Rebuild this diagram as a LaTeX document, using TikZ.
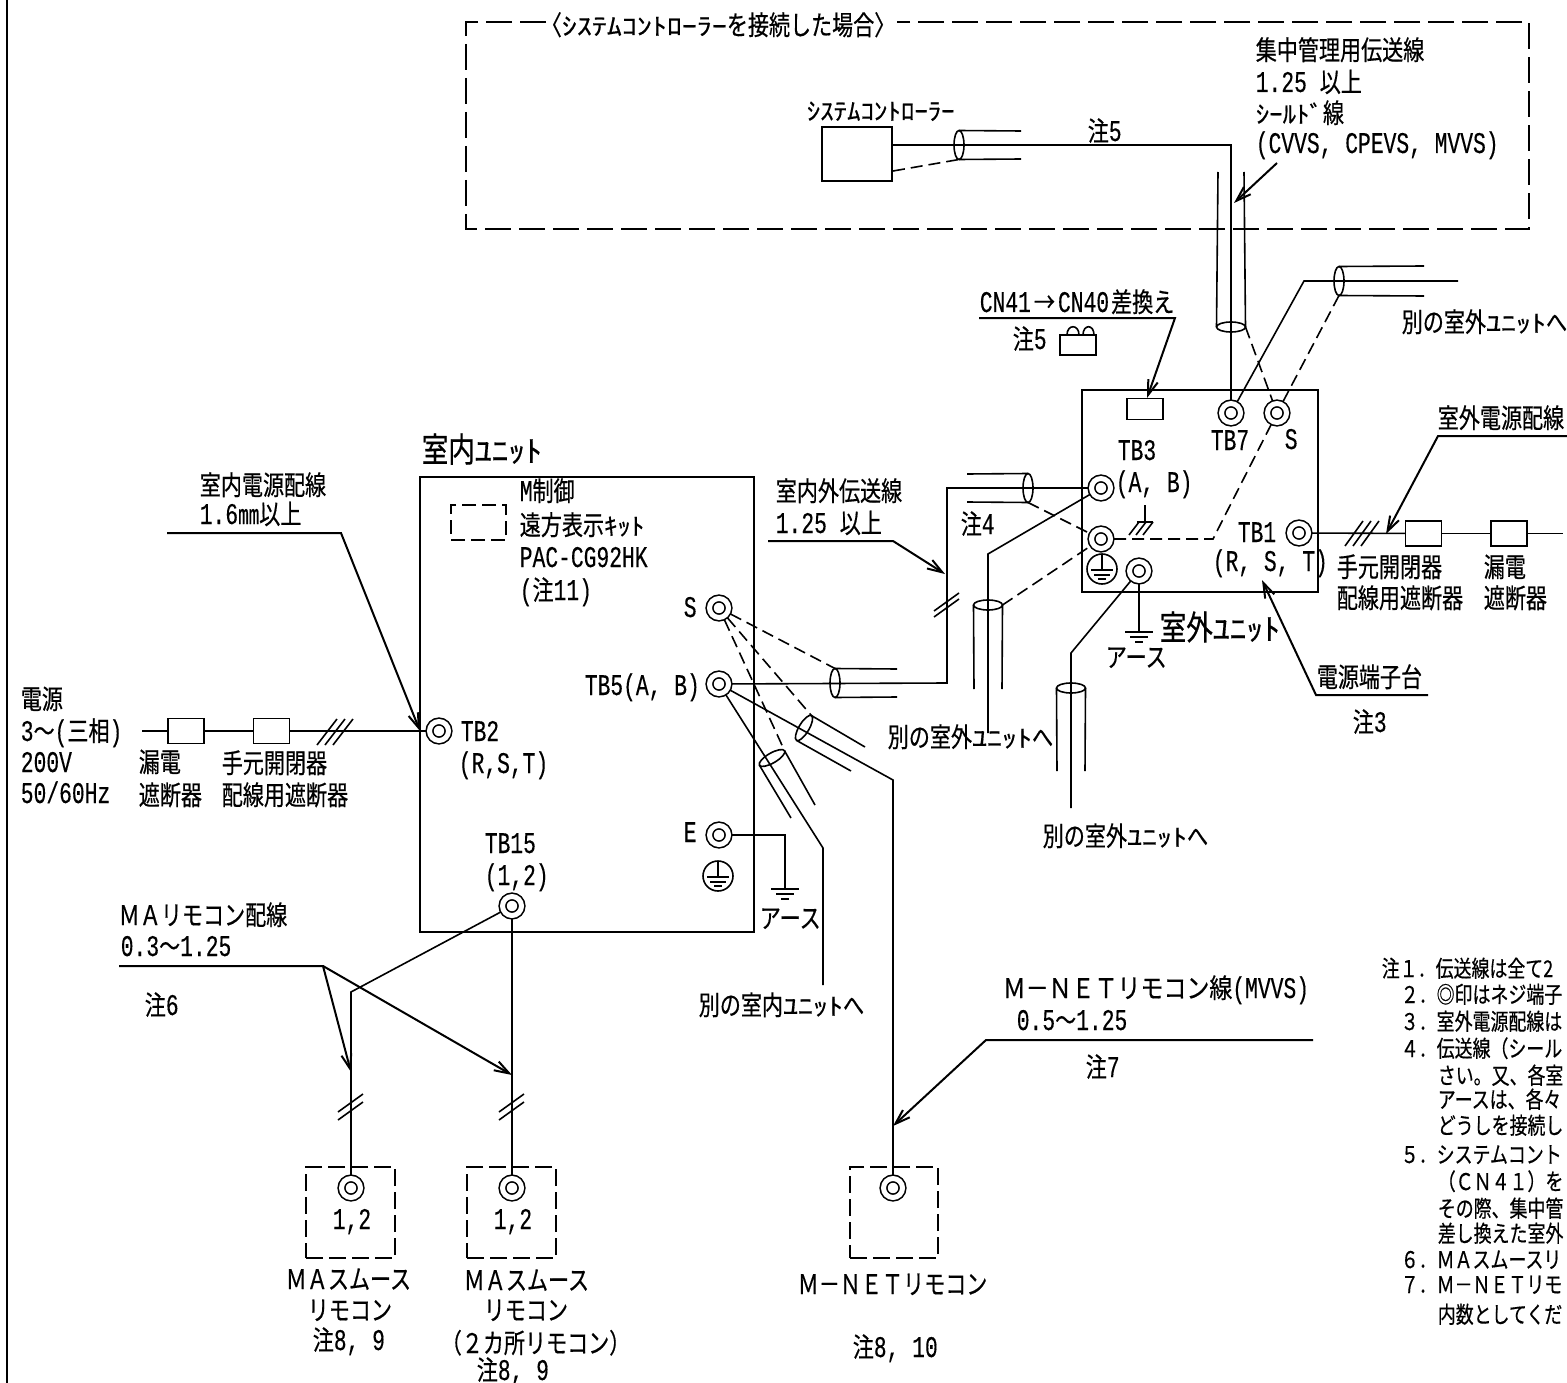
\documentclass[tikz,border=0pt]{standalone}
\usepackage{graphicx}
\usepackage{fontspec}
\setmainfont[FakeStretch=0.71,FakeBold=0.25]{Liberation Mono}
\newfontfamily\jfont[FakeStretch=0.78,FakeBold=0.5]{Noto Sans CJK JP}
\newfontfamily\kfont[FakeStretch=1.12,FakeBold=0.5]{Noto Sans CJK JP}
\newfontfamily\ufont[FakeStretch=1.25,FakeBold=0.5]{Noto Sans CJK JP}
\newcommand{\jp}[1]{{\jfont\fontsize{27}{30}\selectfont #1}}
\newcommand{\hk}[1]{{\kfont\fontsize{24}{28}\selectfont #1}}
\newcommand{\hu}[1]{{\ufont\fontsize{24}{28}\selectfont #1}}
\newcommand{\nt}[1]{{\jfont\fontsize{23}{26}\selectfont #1}}
\newcommand{\unitname}[2]{{\jfont\fontsize{34}{36}\selectfont #1}{\kfont\fontsize{30}{32}\selectfont #2}}
\usetikzlibrary{arrows,automata}
\usetikzlibrary{positioning}
\usetikzlibrary{calc}
\usetikzlibrary{shapes.geometric}
\usetikzlibrary{arrows.meta}

\begin{document}
\begin{tikzpicture}[x=1pt,y=-1pt,line width=1.6pt,font=\fontsize{30}{32}\selectfont]
	\tikzstyle{lbl}=[anchor=west,inner sep=0pt,text height=20pt,text depth=0pt]
	\tikzstyle{term}=[draw,circle,fill=white,double,double distance=5pt,minimum size=19pt,inner sep=0pt,outer sep=3.5pt]
	\tikzstyle{shield}=[draw,ellipse,minimum width=10pt,minimum height=29pt,inner sep=0pt,outer sep=0pt]
	\tikzstyle{brk}=[draw,minimum width=36pt,minimum height=25pt,inner sep=0pt,outer sep=0pt]
	\tikzstyle{unit}=[draw,line width=2pt,inner sep=0pt,outer sep=0pt]
	\tikzstyle{dbox}=[draw,line width=2pt,dash pattern=on 17pt off 6pt,inner sep=0pt,outer sep=0pt]
	\tikzstyle{frame}=[line width=2.2pt,dash pattern=on 26pt off 8pt]
	\tikzstyle{dwire}=[dash pattern=on 12pt off 6pt]
	\tikzstyle{lead}=[line width=2pt,-{Straight Barb[length=15pt,width=10pt]}]
	\tikzset{gnd/.pic={\draw (-14,0) -- (14,0) (-9,5) -- (9,5) (-4,10) -- (4,10);}}
	\tikzset{earthc/.pic={\draw (0,0) circle (15pt);
		\draw (0,-15) -- (0,1) (-11,1) -- (11,1) (-8,6) -- (8,6) (-4,10) -- (4,10);}}
	\useasboundingbox (0,0) rectangle (1567,1383);

	% boxes
	\node[unit,minimum width=334pt,minimum height=455pt] (indoor) at (587,704.5) {};
	\node[unit,minimum width=236pt,minimum height=202pt] (outdoor) at (1200,491) {};
	\node[unit,minimum width=70pt,minimum height=54pt] (sysc) at (857,154) {};
	\node[unit,line width=1.6pt,minimum width=36pt,minimum height=21pt] (cnbox) at (1145,409) {};
	\node[dbox,minimum width=55pt,minimum height=35pt,dash pattern=on 14pt off 6pt] (remkit) at (478.5,522.5) {};
	\node[dbox,minimum width=89pt,minimum height=91pt] (rmboxA) at (350.5,1212.5) {};
	\node[dbox,minimum width=89pt,minimum height=91pt] (rmboxB) at (511.5,1212.5) {};
	\node[dbox,minimum width=88pt,minimum height=91pt] (rmboxC) at (894,1212.5) {};
	\node[brk] (brkA) at (186,731) {};
	\node[brk] (brkB) at (271.5,731) {};
	\node[brk] (brkC) at (1423.5,533.5) {};
	\node[brk] (brkD) at (1509,533.5) {};

	% terminals
	\node[term] (tb7) at (1231,413) {};
	\node[term] (tbs) at (1277,413) {};
	\node[term] (tb3a) at (1101,488) {};
	\node[term] (tb3b) at (1101,539) {};
	\node[term] (tbe) at (1139,571) {};
	\node[term] (tb1) at (1299,533) {};
	\node[term] (tb2) at (439,731) {};
	\node[term] (ins) at (719,608) {};
	\node[term] (tb5) at (719,684) {};
	\node[term] (ine) at (719,835) {};
	\node[term] (tb15) at (512,906) {};
	\node[term] (rmA) at (351,1188) {};
	\node[term] (rmB) at (512,1188) {};
	\node[term] (rmC) at (893,1188) {};

	% shields
	\node[shield] (cabSys) at (959,145) {};
	\node[shield,rotate=-90] (cabTop) at (1231,327) {};
	\node[shield] (cabOut) at (1339,281) {};
	\node[shield] (cabTb) at (1028,488) {};
	\node[shield,rotate=-90] (cabLf) at (988,605) {};
	\node[shield,rotate=-90] (cabEa) at (1071,688) {};
	\node[shield] (cabIn) at (835,683) {};
	\node[shield,rotate=-31] (cabRm) at (804,728) {};
	\node[shield,rotate=-60] (cabOt) at (772,758) {};

	% free ends
	\coordinate (sysW) at (892,145);
	\coordinate (sysD) at (893,171);
	\coordinate (sysT) at (1231,145);
	\coordinate (sysU) at (1021,131);
	\coordinate (sysL) at (1021,159);
	\coordinate (topL) at (1218,172);
	\coordinate (topR) at (1244,172);
	\coordinate (outB) at (1304,281);
	\coordinate (outE) at (1458,281);
	\coordinate (outU) at (1424,266);
	\coordinate (outL) at (1424,296);
	\coordinate (bendS) at (1213,539);
	\coordinate (tbU) at (967,474);
	\coordinate (tbL) at (967,502);
	\coordinate (bendT) at (947,488);
	\coordinate (bendI) at (947,683);
	\coordinate (lfB) at (988,554);
	\coordinate (lfE) at (988,733);
	\coordinate (lfL) at (974,689);
	\coordinate (lfR) at (1002,689);
	\coordinate (eaB) at (1071,653);
	\coordinate (eaE) at (1071,808);
	\coordinate (eaL) at (1057,771);
	\coordinate (eaR) at (1085,771);
	\coordinate (inU) at (897,669);
	\coordinate (inL) at (897,697);
	\coordinate (rmU) at (865,747);
	\coordinate (rmL) at (851,771);
	\coordinate (rmK) at (893,780);
	\coordinate (otU) at (815,805);
	\coordinate (otL) at (791,818);
	\coordinate (otK) at (823,848);
	\coordinate (otE) at (823,985);
	\coordinate (eK) at (785,835);
	\coordinate (eG) at (785,889);
	\coordinate (maK) at (351,992);
	\coordinate (psL) at (142,731);
	\coordinate (psR) at (1563,533.5);
	\coordinate (oeG) at (1139,632);

	% wires
	\draw (sysW) -- (sysT) -- (tb7);
	\draw[dwire] (sysD) -- (cabSys.south);
	\draw (cabSys.north) -- (sysU);
	\draw (cabSys.south) -- (sysL);
	\draw (cabTop.south) -- (topL);
	\draw (cabTop.north) -- (topR);
	\draw[dwire] (cabTop.north) -- (tbs);
	\draw (tb7) -- (outB) -- (outE);
	\draw (cabOut.north) -- (outU);
	\draw (cabOut.south) -- (outL);
	\draw[dwire] (cabOut.south) -- (tbs);
	\draw[dwire] (tb3b) -- (bendS) -- (tbs);
	\draw (tb5) -- (bendI) -- (bendT) -- (tb3a);
	\draw (cabTb.north) -- (tbU);
	\draw (cabTb.south) -- (tbL);
	\draw[dwire] (cabTb.south) -- (tb3b);
	\draw (tb3a) -- (lfB) -- (lfE);
	\draw (cabLf.south) -- (lfL);
	\draw (cabLf.north) -- (lfR);
	\draw[dwire] (cabLf.north) -- (tb3b);
	\draw (tbe) -- (eaB) -- (eaE);
	\draw (cabEa.south) -- (eaL);
	\draw (cabEa.north) -- (eaR);
	\draw (tbe) -- (oeG);
	\draw (tb1) -- (brkC);
	\draw (brkC) -- (brkD);
	\draw (brkD) -- (psR);
	\draw (psL) -- (brkA);
	\draw (brkA) -- (brkB);
	\draw (brkB) -- (tb2);
	\draw (cabIn.north) -- (inU);
	\draw (cabIn.south) -- (inL);
	\draw[dwire] (ins) -- (cabIn.north);
	\draw[dwire] (ins) -- (cabRm.north);
	\draw[dwire] (ins) -- (cabOt.north);
	\draw (cabRm.north) -- (rmU);
	\draw (cabRm.south) -- (rmL);
	\draw (tb5) -- (rmK) -- (rmC);
	\draw (cabOt.north) -- (otU);
	\draw (cabOt.south) -- (otL);
	\draw (tb5) -- (otK) -- (otE);
	\draw (ine) -- (eK) -- (eG);
	\draw (tb15) -- (rmB);
	\draw (tb15) -- (maK) -- (rmA);

	% cross ticks
	\foreach \x in {1345,1353,1361} \draw (\x,546) -- ++(18,-25);
	\foreach \x in {317,325,333} \draw (\x,745) -- ++(20,-26);
	\foreach \x/\y in {934/611,934/617,338/1112,338/1120,499/1112,499/1120} \draw (\x,\y) -- ++(25,-18);

	% earth marks
	\pic at (eG) {gnd};
	\pic at (oeG) {gnd};
	\pic at (718,876) {earthc};
	\pic at (1102,569) {earthc};
	\draw (1145,505) -- (1145,522) (1137,522) -- (1153,522);
	\foreach \x in {1139,1146,1153} \draw (\x,522) -- ++(-10,13);

	% CN plug
	\node[unit,line width=1.6pt,minimum width=36pt,minimum height=20pt] (plug) at (1078,345) {};
	\draw (1067,335) .. controls (1067,324) and (1079,324) .. (1079,335);
	\draw (1083,335) .. controls (1083,324) and (1094,324) .. (1094,335);

	% border and dashed frame
	\coordinate (edgeT) at (7,0);
	\coordinate (edgeB) at (7,1383);
	\draw[line width=2pt] (edgeT) -- (edgeB);
	\node[lbl] (frameT) at (540,25) {\jp{〈}\hu{ｼｽﾃﾑｺﾝﾄﾛｰﾗｰ}\jp{を接続した場合〉}};
	\coordinate (frTL) at (466,22);
	\coordinate (frBL) at (466,229);
	\coordinate (frBR) at (1529,229);
	\coordinate (frTR) at (1529,22);
	\coordinate (frEnd) at (897,22);
	\coordinate (frStart) at (546,22);
	\draw[frame] (frStart) -- (frTL) -- (frBL) -- (frBR) -- (frTR) -- (frEnd);

	% leaders
	\coordinate (ldA) at (1277,163);
	\coordinate (ldAe) at (1234,203);
	\coordinate (ldB) at (979,318);
	\coordinate (ldBk) at (1175,318);
	\coordinate (ldBe) at (1147,398);
	\coordinate (ldC) at (1567,436);
	\coordinate (ldCk) at (1438,436);
	\coordinate (ldCe) at (1386,534);
	\coordinate (ldD) at (1428,695);
	\coordinate (ldDk) at (1316,695);
	\coordinate (ldDe) at (1262,580);
	\coordinate (ldE) at (167,533);
	\coordinate (ldEk) at (341,533);
	\coordinate (ldEe) at (420,731);
	\coordinate (ldF) at (768,541);
	\coordinate (ldFk) at (893,541);
	\coordinate (ldFe) at (945,574);
	\coordinate (ldG) at (119,966);
	\coordinate (ldGk) at (323,966);
	\coordinate (ldGa) at (351,1072);
	\coordinate (ldGb) at (512,1075);
	\coordinate (ldH) at (1313,1040);
	\coordinate (ldHk) at (986,1040);
	\coordinate (ldHe) at (893,1126);
	\draw[lead] (ldA) -- (ldAe);
	\draw[lead] (ldB) -- (ldBk) -- (ldBe);
	\draw[lead] (ldC) -- (ldCk) -- (ldCe);
	\draw[lead] (ldD) -- (ldDk) -- (ldDe);
	\draw[lead] (ldE) -- (ldEk) -- (ldEe);
	\draw[lead] (ldF) -- (ldFk) -- (ldFe);
	\draw[lead] (ldG) -- (ldGk) -- (ldGa);
	\draw[lead] (ldGk) -- (ldGb);
	\draw[lead] (ldH) -- (ldHk) -- (ldHe);

	% top labels
	\node[lbl] (sysName) at (806,110) {\hk{ｼｽﾃﾑｺﾝﾄﾛｰﾗｰ}};
	\node[lbl] (noteSys) at (1087,131) {\jp{注}5};
	\node[lbl] (busA) at (1255,50) {\jp{集中管理用伝送線}};
	\node[lbl] (busB) at (1255,82) {1.25 \jp{以上}};
	\node[lbl] (busC) at (1255,113) {\hk{ｼｰﾙﾄﾞ}\jp{線}};
	\node[lbl] (busD) at (1255,143) {(CVVS, CPEVS, MVVS)};

	% outdoor labels
	\node[lbl] (cnA) at (979,302) {CN41\hspace{3pt}\jp{→}\hspace{3pt}CN40\hspace{2pt}\jp{差換え}};
	\node[lbl] (cnB) at (1012,339) {\jp{注}5};
	\node[lbl] (anotherA) at (1401,322) {\jp{別の室外}\hu{ﾕﾆｯﾄ}\jp{へ}};
	\node[lbl] (anotherB) at (887,737) {\jp{別の室外}\hu{ﾕﾆｯﾄ}\jp{へ}};
	\node[lbl] (anotherC) at (1042,836) {\jp{別の室外}\hu{ﾕﾆｯﾄ}\jp{へ}};
	\node[lbl] (anotherD) at (698,1005) {\jp{別の室内}\hu{ﾕﾆｯﾄ}\jp{へ}};
	\node[lbl] (lTb7) at (1210,440) {TB7};
	\node[lbl] (lS) at (1284,439) {S};
	\node[lbl] (lTb3) at (1117,450) {TB3};
	\node[lbl] (lAb) at (1115,482) {(A, B)};
	\node[lbl] (lTb1) at (1237,532) {TB1};
	\node[lbl] (lRst) at (1212,561) {(R, S, T)};
	\node[lbl] (lEarthA) at (1105,657) {\jp{アース}};
	\node[lbl] (lOut) at (1159,630) {\unitname{室外}{ﾕﾆｯﾄ}};
	\node[lbl] (pwOutA) at (1437,418) {\jp{室外電源配線}};
	\node[lbl] (swC) at (1336,567) {\jp{手元開閉器}};
	\node[lbl] (swD) at (1336,598) {\jp{配線用遮断器}};
	\node[lbl] (lkC) at (1483,567) {\jp{漏電}};
	\node[lbl] (lkD) at (1483,598) {\jp{遮断器}};
	\node[lbl] (termName) at (1316,677) {\jp{電源端子台}};
	\node[lbl] (noteTerm) at (1352,722) {\jp{注}3};
	\node[lbl] (lineA) at (775,491) {\jp{室内外伝送線}};
	\node[lbl] (lineB) at (775,523) {1.25 \jp{以上}};
	\node[lbl] (noteLine) at (960,524) {\jp{注}4};

	% indoor labels
	\node[lbl] (inName) at (421,452) {\unitname{室内}{ﾕﾆｯﾄ}};
	\node[lbl] (pwInA) at (199,485) {\jp{室内電源配線}};
	\node[lbl] (pwInB) at (199,514) {1.6\jp{㎜以上}};
	\node[lbl] (srcA) at (20,699) {\jp{電源}};
	\node[lbl] (srcB) at (20,731) {3\jp{～}(\jp{三相})};
	\node[lbl] (srcC) at (20,762) {200V};
	\node[lbl] (srcD) at (20,793) {50/60Hz};
	\node[lbl] (lkA) at (138,762) {\jp{漏電}};
	\node[lbl] (lkB) at (138,795) {\jp{遮断器}};
	\node[lbl] (swA) at (221,763) {\jp{手元開閉器}};
	\node[lbl] (swB) at (221,795) {\jp{配線用遮断器}};
	\node[lbl] (kitA) at (519,491) {M\jp{制御}};
	\node[lbl] (kitB) at (519,525) {\jp{遠方表示}\hk{ｷｯﾄ}};
	\node[lbl] (kitC) at (519,557) {PAC-CG92HK};
	\node[lbl] (kitD) at (519,590) {(\jp{注}11)};
	\node[lbl] (lTb2) at (460,731) {TB2};
	\node[lbl] (lRstB) at (458,763) {(R,S,T)};
	\node[lbl] (lSi) at (683,607) {S};
	\node[lbl] (lTb5) at (584,685) {TB5(A, B)};
	\node[lbl] (lE) at (683,832) {E};
	\node[lbl] (lTb15) at (484,843) {TB15};
	\node[lbl] (l12) at (484,875) {(1,2)};
	\node[lbl] (lEarthB) at (759,918) {\jp{アース}};

	% remote labels
	\node[lbl] (maA) at (118,915) {\jp{ＭＡリモコン配線}};
	\node[lbl] (maB) at (120,946) {0.3\jp{～}1.25};
	\node[lbl] (noteMa) at (144,1005) {\jp{注}6};
	\node[lbl] (mnA) at (1002,988) {\scalebox{1.09}[1]{\jp{Ｍ－ＮＥＴリモコン線}}(MVVS)};
	\node[lbl] (mnB) at (1016,1020) {0.5\jp{～}1.25};
	\node[lbl] (noteMn) at (1085,1067) {\jp{注}7};
	\node[lbl] (pA) at (332,1219) {1,2};
	\node[lbl] (pB) at (493,1219) {1,2};
	\node[lbl] (rmaA) at (285,1279) {\jp{ＭＡスムース}};
	\node[lbl] (rmaB) at (307,1310) {\jp{リモコン}};
	\node[lbl] (rmaC) at (312,1340) {\jp{注}8, 9};
	\node[lbl] (rmbA) at (463,1280) {\jp{ＭＡスムース}};
	\node[lbl] (rmbB) at (483,1310) {\jp{リモコン}};
	\node[lbl] (rmbC) at (440,1343) {\jp{（２カ所リモコン）}};
	\node[lbl] (rmbD) at (476,1370) {\jp{注}8, 9};
	\node[lbl] (rmcA) at (797,1284) {\jp{Ｍ－ＮＥＴリモコン}};
	\node[lbl] (rmcB) at (852,1347) {\jp{注}8, 10};

	% notes
	\node[lbl] (nA) at (1381,967) {\nt{注１．伝送線は全て2}};
	\node[lbl] (nB) at (1400,993) {\nt{２．◎印はネジ端子}};
	\node[lbl] (nC) at (1400,1020) {\nt{３．室外電源配線は}};
	\node[lbl] (nD) at (1400,1047) {\nt{４．伝送線（シール}};
	\node[lbl] (nE) at (1437,1074) {\nt{さい。又、各室}};
	\node[lbl] (nF) at (1437,1098) {\nt{アースは、各々}};
	\node[lbl] (nG) at (1437,1124) {\nt{どうしを接続し}};
	\node[lbl] (nH) at (1400,1153) {\nt{５．システムコント}};
	\node[lbl] (nI) at (1437,1180) {\nt{（ＣＮ４１）を}};
	\node[lbl] (nJ) at (1437,1207) {\nt{その際、集中管}};
	\node[lbl] (nK) at (1437,1232) {\nt{差し換えた室外}};
	\node[lbl] (nL) at (1400,1258) {\nt{６．ＭＡスムースリ}};
	\node[lbl] (nM) at (1400,1283) {\nt{７．Ｍ－ＮＥＴリモ}};
	\node[lbl] (nN) at (1437,1313) {\nt{内数としてくだ}};
\end{tikzpicture}
\end{document}
